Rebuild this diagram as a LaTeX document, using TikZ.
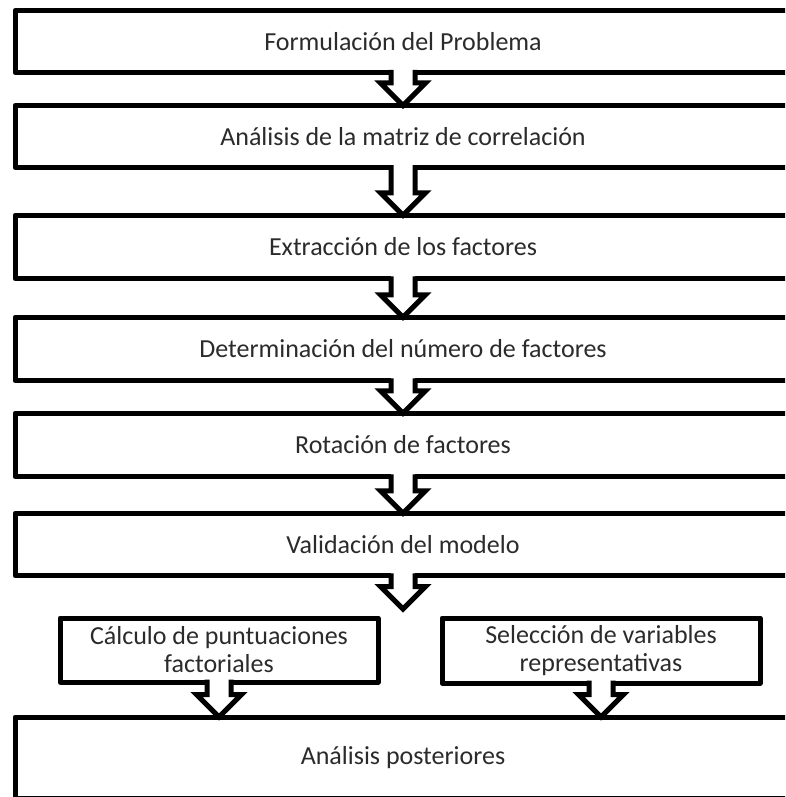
\documentclass[tikz,border=0pt]{standalone}
\usepackage{fontspec}
\setmainfont{Carlito}
\usetikzlibrary{calc}
\definecolor{TextoGris}{HTML}{2B2B2B}

% flecha de bloque: de la caja #1 hasta la punta #2
\newcommand{\flecha}[2]{%
	\fill[white] ($(#1.south -| #2)+(-12,-3.5)$) rectangle ($(#1.south -| #2)+(12,3.5)$);
	\draw[flechalinea] ($(#1.south -| #2)+(-12,-2.5)$) |- ($(#2)+(-22.5,-22.5)$) -- (#2)
		-- ($(#2)+(22.5,-22.5)$) -| ($(#1.south -| #2)+(12,-2.5)$);
}

\begin{document}
\begin{tikzpicture}[x=1pt, y=-1pt,
		every node/.style={text=TextoGris, font=\fontsize{26}{28}\selectfont},
		caja/.style={draw, line width=5pt, line join=round, rectangle, fill=white, inner sep=0pt, outer sep=0pt, minimum width=776pt},
		cajachica/.style={caja, minimum width=318pt, align=center},
		flechalinea/.style={line width=5pt, line join=miter}]
	\useasboundingbox (0,0) rectangle (785,797);
	\clip (0,0) rectangle (785,797);
	
	\node[caja, minimum height=62pt] (b1) at (403,41.5) {Formulación del Problema};
	\node[caja, minimum height=62pt] (b2) at (403,136.5) {Análisis de la matriz de correlación};
	\node[caja, minimum height=63.5pt] (b3) at (403,247) {Extracción de los factores};
	\node[caja, minimum height=63.5pt] (b4) at (403,349) {Determinación del número de factores};
	\node[caja, minimum height=63.5pt] (b5) at (403,445) {Rotación de factores};
	\node[caja, minimum height=62.5pt] (b6) at (403,544.5) {Validación del modelo};
	%
	\node[cajachica, minimum height=64pt] (b7a) at (219,650) {Cálculo de puntuaciones\\factoriales};
	\node[cajachica, minimum height=65pt] (b7b) at (601,650.5) {Selección de variables\\representativas};
	%
	\node[caja, minimum height=81pt] (b8) at (403,757.5) {Análisis posteriores};
	
	\coordinate (p6) at (403,609);
	\coordinate (p7a) at (b7a.south |- b8.north);
	\coordinate (p7b) at (b7b.south |- b8.north);
	
	\flecha{b1}{b2.north}
	\flecha{b2}{b3.north}
	\flecha{b3}{b4.north}
	\flecha{b4}{b5.north}
	\flecha{b5}{b6.north}
	\flecha{b6}{p6}
	%
	\flecha{b7a}{p7a}
	\flecha{b7b}{p7b}
\end{tikzpicture}
\end{document}
